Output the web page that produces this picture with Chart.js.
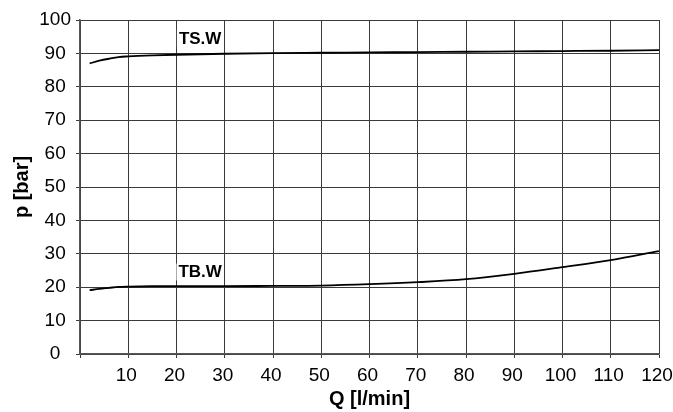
<!DOCTYPE html>
<html>
<head>
<meta charset="utf-8">
<script src="https://cdn.jsdelivr.net/npm/chart.js@4/dist/chart.umd.min.js"></script>
<style>
html,body{margin:0;padding:0;background:#fff;}
#wrap{width:673px;height:412px;}
</style>
</head>
<body>
<div id="wrap"><canvas id="c" width="673" height="412"></canvas></div>
<script>
const flowQ = [2, 4, 6, 8, 10, 15, 20, 30, 40, 50, 60, 70, 80, 90, 100, 110, 120];
const pressureTS = [87.0, 87.8, 88.4, 88.9, 89.1, 89.4, 89.6, 89.9, 90.1, 90.2, 90.3, 90.4, 90.5, 90.6, 90.7, 90.8, 91.0];
const pressureTB = [19.1, 19.5, 19.8, 20.1, 20.2, 20.3, 20.3, 20.3, 20.4, 20.5, 20.9, 21.5, 22.4, 24.0, 26.0, 28.1, 30.8];
const seriesNames = ['TS.W', 'TB.W'];
const labelPos = [{x: 24.9, y: 94.3}, {x: 24.9, y: 24.4}];
const xRange = {min: 0, max: 120, step: 10};
const yRange = {min: 0, max: 100, step: 10};

const toPts = (xs, ys) => xs.map((x, i) => ({x: x, y: ys[i]}));

const labelPlugin = {
  id: 'seriesLabels',
  afterDatasetsDraw(chart) {
    const ctx = chart.ctx;
    const xs = chart.scales.x, ys = chart.scales.y;
    ctx.save();
    ctx.font = 'bold 17px "Liberation Sans", Arial, sans-serif';
    ctx.textAlign = 'center';
    ctx.textBaseline = 'middle';
    seriesNames.forEach((n, i) => {
      const px = xs.getPixelForValue(labelPos[i].x);
      const py = ys.getPixelForValue(labelPos[i].y);
      const w = ctx.measureText(n).width;
      ctx.fillStyle = '#fff';
      ctx.fillRect(px - w / 2 - 2, py - 9, w + 4, 17);
      ctx.fillStyle = '#000';
      ctx.fillText(n, px, py);
    });
    ctx.restore();
  }
};

const FONT = '"Liberation Sans", Arial, sans-serif';

new Chart(document.getElementById('c'), {
  type: 'line',
  data: {
    datasets: [
      {label: seriesNames[0], data: toPts(flowQ, pressureTS), borderColor: '#000', borderWidth: 1.8, pointRadius: 0, cubicInterpolationMode: 'monotone', fill: false},
      {label: seriesNames[1], data: toPts(flowQ, pressureTB), borderColor: '#000', borderWidth: 1.8, pointRadius: 0, cubicInterpolationMode: 'monotone', fill: false}
    ]
  },
  options: {
    responsive: false,
    animation: false,
    devicePixelRatio: 1,
    layout: {padding: {left: 0, right: 14, top: 20, bottom: 0}},
    plugins: {legend: {display: false}, tooltip: {enabled: false}},
    scales: {
      x: {
        type: 'linear', min: xRange.min, max: xRange.max,
        afterFit: s => { s.height = 58; s.paddingLeft = 0; s.paddingRight = 0; },
        ticks: {
          stepSize: xRange.step,
          callback: v => (v === 0 ? '' : String(v)),
          color: '#000', padding: 6, maxRotation: 0, autoSkip: false, labelOffset: -2,
          font: {family: FONT, size: 19}
        },
        grid: {color: '#3a3a3a', lineWidth: 1, tickLength: 4, drawTicks: true, drawOnChartArea: true},
        border: {display: true, color: '#555', width: 1.5},
        title: {display: true, text: 'Q [l/min]', color: '#000', padding: {top: 0, bottom: 1},
          font: {family: FONT, size: 20, weight: 'bold'}}
      },
      y: {
        type: 'linear', min: yRange.min, max: yRange.max,
        afterFit: s => { s.width = 80; s.paddingTop = 0; s.paddingBottom = 0; },
        ticks: {
          stepSize: yRange.step,
          color: '#000', padding: 5, crossAlign: 'center', autoSkip: false,
          font: {family: FONT, size: 19}
        },
        grid: {color: '#3a3a3a', lineWidth: 1, tickLength: 4, drawTicks: true, drawOnChartArea: true},
        border: {display: true, color: '#555', width: 1.5},
        title: {display: true, text: 'p [bar]', color: '#000', padding: {top: 10, bottom: 0},
          font: {family: FONT, size: 20, weight: 'bold'}}
      }
    }
  },
  plugins: [labelPlugin]
});
</script>
</body>
</html>
